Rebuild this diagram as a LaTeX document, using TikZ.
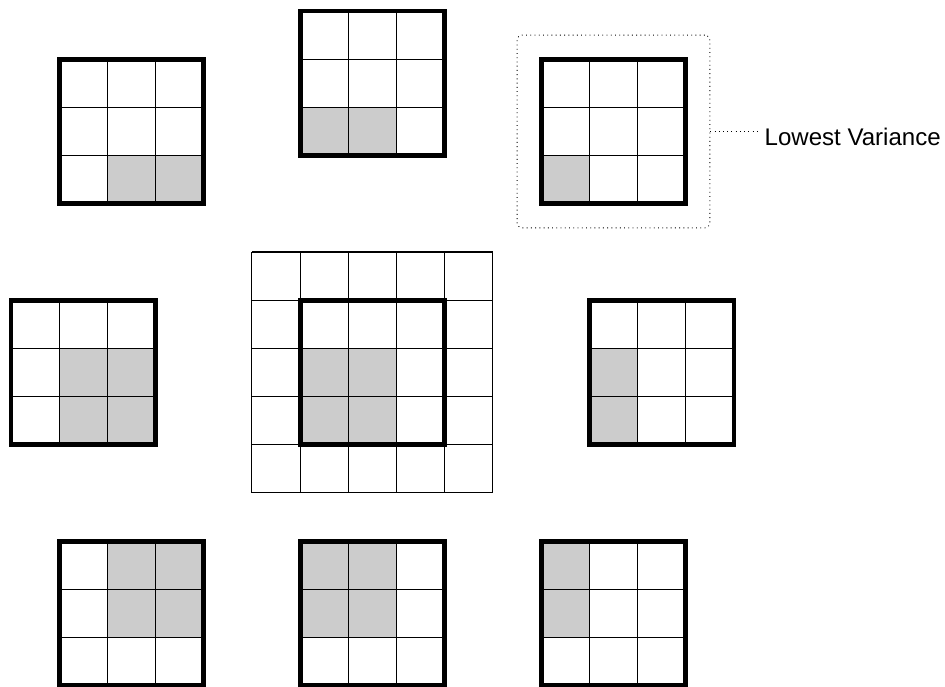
\documentclass[tikz,border=0pt]{standalone}
\usepackage{fontspec}
\setmainfont{Liberation Sans}
\usepackage{tikz}
\usetikzlibrary{positioning}
\definecolor{cellgray}{HTML}{CCCCCC}

% 3x3 window: lower left corner at (#1,#2), shaded cells as col/row (row 0 on top)
\newcommand{\subwindow}[3]{%
  \begin{scope}[shift={(#1,#2)}]
    \foreach \col/\rw in {#3}
      \fill[cellfill] (\col,2-\rw) rectangle ++(1,1);
    \draw[cellgrid] (0,0) grid (3,3);
    \draw[frame] (0,0) rectangle (3,3);
  \end{scope}}

\begin{document}
\begin{tikzpicture}[
    cellfill/.style={fill=cellgray},
    cellgrid/.style={line width=0.6pt, step=1},
    frame/.style={line width=2.8pt},
    dotbox/.style={draw, dotted, line width=0.5pt, rounded corners=3pt, minimum size=4cm, inner sep=0pt},
    label/.style={font=\fontsize{14.2}{17}\selectfont, inner sep=4pt},
]
\useasboundingbox (-7.728,-6.525) rectangle (11.878,7.728);

% Top row
\subwindow{-6.5}{3.5}{1/2,2/2}
\subwindow{-1.5}{4.5}{0/2,1/2}
\subwindow{3.5}{3.5}{0/2}

% Middle row
\subwindow{-7.5}{-1.5}{1/1,2/1,1/2,2/2}
\subwindow{4.5}{-1.5}{0/1,0/2}

% Centre neighbourhood
\begin{scope}[shift={(-2.5,-2.5)}]
  \fill[cellfill] (1,1) rectangle (3,3);
  \draw[cellgrid] (0,0) grid (5,5);
  \draw[frame] (1,1) rectangle (4,4);
\end{scope}

% Bottom row
\subwindow{-6.5}{-6.5}{1/0,2/0,1/1,2/1}
\subwindow{-1.5}{-6.5}{0/0,1/0,0/1,1/1}
\subwindow{3.5}{-6.5}{0/0,0/1}

% Label
\node[dotbox] (best) at (5,5) {};
\node[label, anchor=west, right=0.98cm of best.east, yshift=-0.12cm] (lowvar) {Lowest Variance};
\draw[dotted, line width=0.5pt] (best.east) -- (best.east -| lowvar.west);

\end{tikzpicture}
\end{document}
